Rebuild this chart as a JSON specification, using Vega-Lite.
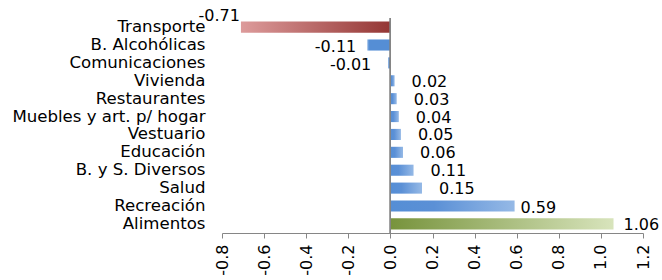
{
  "$schema": "https://vega.github.io/schema/vega-lite/v6.json",
  "autosize": "none",
  "width": 421,
  "height": 215,
  "padding": {"left": 222, "top": 18, "right": 19, "bottom": 47},
  "background": "white",
  "config": {"view": {"stroke": null}, "font": "DejaVu Sans"},
  "data": {"values": [
    {"cat": "Transporte", "v": -0.71},
    {"cat": "B. Alcohólicas", "v": -0.11},
    {"cat": "Comunicaciones", "v": -0.01},
    {"cat": "Vivienda", "v": 0.02},
    {"cat": "Restaurantes", "v": 0.03},
    {"cat": "Muebles y art. p/ hogar", "v": 0.04},
    {"cat": "Vestuario", "v": 0.05},
    {"cat": "Educación", "v": 0.06},
    {"cat": "B. y S. Diversos", "v": 0.11},
    {"cat": "Salud", "v": 0.15},
    {"cat": "Recreación", "v": 0.59},
    {"cat": "Alimentos", "v": 1.06}
  ]},
  "transform": [{"calculate": "replace(format(datum.v, '.2f'), '\u2212', '-')", "as": "lab"}],
  "encoding": {
    "y": {"field": "cat", "type": "nominal",
      "sort": ["Transporte", "B. Alcohólicas", "Comunicaciones", "Vivienda", "Restaurantes", "Muebles y art. p/ hogar", "Vestuario", "Educación", "B. y S. Diversos", "Salud", "Recreación", "Alimentos"],
      "scale": {"paddingInner": 0.38, "paddingOuter": 0.2},
      "axis": {"title": null, "domain": false, "ticks": false, "labelPadding": 17, "labelLimit": 0,
        "labelFontSize": 16.6, "labelColor": "#000000", "labelFont": "DejaVu Sans"}},
    "x": {"field": "v", "type": "quantitative",
      "scale": {"domain": [-0.8, 1.2], "nice": false, "zero": false},
      "axis": {"title": null, "grid": false, "values": [-0.8,-0.6,-0.4,-0.2,0,0.2,0.4,0.6,0.8,1.0,1.2],
        "format": ".1f", "labelExpr": "replace(datum.label, '\u2212', '-')",
        "labelAngle": 270, "labelAlign": "right", "labelBaseline": "middle",
        "labelFontSize": 16, "labelColor": "#000000", "labelPadding": 6,
        "domainColor": "#868686", "tickColor": "#868686", "tickSize": 5, "labelFont": "DejaVu Sans"}}
  },
  "layer": [
    {"transform": [{"filter": "datum.cat === 'Transporte'"}],
     "mark": {"type": "bar", "color": {"gradient": "linear", "x1": 0, "x2": 1, "y1": 0, "y2": 0,
       "stops": [{"offset": 0, "color": "#dd9b9b"}, {"offset": 1, "color": "#943634"}]}},
     "encoding": {"x2": {"datum": 0}}},
    {"transform": [{"filter": "datum.cat === 'Alimentos'"}],
     "mark": {"type": "bar", "color": {"gradient": "linear", "x1": 0, "x2": 1, "y1": 0, "y2": 0,
       "stops": [{"offset": 0, "color": "#77933c"}, {"offset": 1, "color": "#d8e4bc"}]}},
     "encoding": {"x2": {"datum": 0}}},
    {"transform": [{"filter": "datum.cat !== 'Alimentos' && datum.cat !== 'Transporte' && datum.v > 0"}],
     "mark": {"type": "bar", "color": {"gradient": "linear", "x1": 0, "x2": 1, "y1": 0, "y2": 0,
       "stops": [{"offset": 0, "color": "#558ed5"}, {"offset": 0.35, "color": "#5b90d6"}, {"offset": 1, "color": "#95b9e6"}]}},
     "encoding": {"x2": {"datum": 0}}},
    {"transform": [{"filter": "datum.cat !== 'Transporte' && datum.v < 0"}],
     "mark": {"type": "bar", "color": {"gradient": "linear", "x1": 0, "x2": 1, "y1": 0, "y2": 0,
       "stops": [{"offset": 0, "color": "#95b9e6"}, {"offset": 0.08, "color": "#558ed5"}, {"offset": 1, "color": "#558ed5"}]}},
     "encoding": {"x2": {"datum": 0}}},
    {"mark": {"type": "rule", "color": "#868686", "strokeWidth": 1},
     "encoding": {"x": {"datum": 0}, "y": null}},
    {"transform": [{"filter": "datum.v > 0 && datum.v < 0.5"}],
     "mark": {"type": "text", "align": "left", "dx": 17, "fontSize": 16, "color": "#000000", "dy": 1},
     "encoding": {"text": {"field": "lab", "type": "nominal"}}},
    {"transform": [{"filter": "datum.v > 0.5 && datum.v < 1"}],
     "mark": {"type": "text", "align": "left", "dx": 6, "fontSize": 16, "color": "#000000", "dy": 2},
     "encoding": {"text": {"field": "lab", "type": "nominal"}}},
    {"transform": [{"filter": "datum.v > 1"}],
     "mark": {"type": "text", "align": "left", "dx": 10, "fontSize": 16, "color": "#000000", "dy": 1},
     "encoding": {"text": {"field": "lab", "type": "nominal"}}},
    {"transform": [{"filter": "datum.v < -0.05 && datum.v > -0.5"}],
     "mark": {"type": "text", "align": "right", "dx": -11, "fontSize": 16, "color": "#000000", "dy": 2},
     "encoding": {"text": {"field": "lab", "type": "nominal"}}},
    {"transform": [{"filter": "datum.v < 0 && datum.v > -0.05"}],
     "mark": {"type": "text", "align": "right", "dx": -17, "fontSize": 16, "color": "#000000", "dy": 2},
     "encoding": {"text": {"field": "lab", "type": "nominal"}}},
    {"transform": [{"filter": "datum.v < -0.5"}],
     "mark": {"type": "text", "align": "right", "dx": -1, "fontSize": 16, "color": "#000000", "dy": -11},
     "encoding": {"text": {"field": "lab", "type": "nominal"}}}
  ]
}
